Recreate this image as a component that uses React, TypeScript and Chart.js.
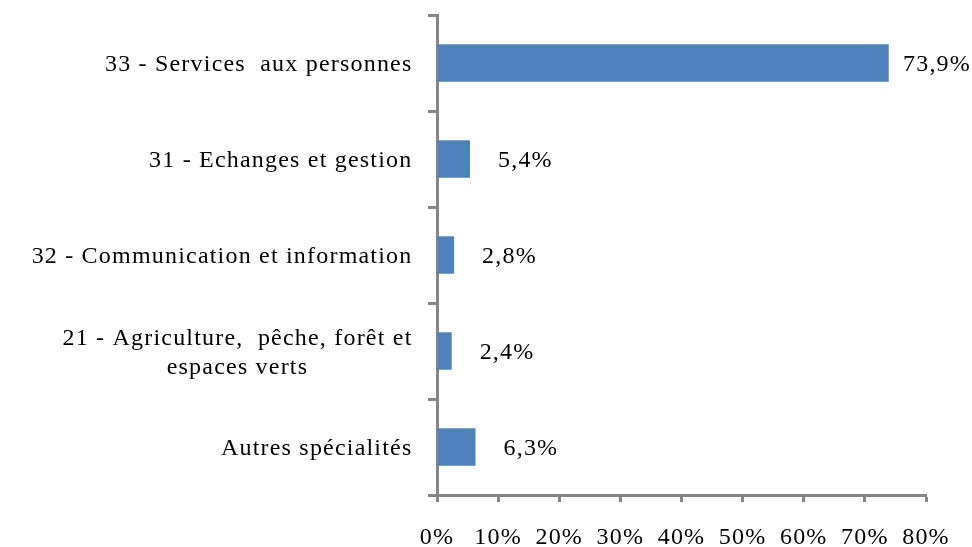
import React, { useEffect, useRef } from "react";
import { Chart, registerables } from "chart.js";

Chart.register(...registerables);

const categories: string[][] = [
  ["33 - Services  aux personnes"],
  ["31 - Echanges et gestion"],
  ["32 - Communication et information"],
  ["21 - Agriculture,  pêche, forêt et", "espaces verts"],
  ["Autres spécialités"],
];
const values: number[] = [73.9, 5.4, 2.8, 2.4, 6.3];
const valueLabels: string[] = ["73,9%", "5,4%", "2,8%", "2,4%", "6,3%"];
const xMin = 0;
const xMax = 80;
const xStep = 10;

const FONT = '"Liberation Serif", "Times New Roman", serif';
const AXIS = "#868686";
const BAR = "#4F81BD";
const SPACING = "1.2px";

const spacingPlugin = {
  id: "spacing",
  beforeDraw(chart: any) {
    (chart.ctx as any).letterSpacing = SPACING;
  },
};

const labelPlugin = {
  id: "customLabels",
  afterDraw(chart: any) {
    const ctx = chart.ctx;
    ctx.save();
    (ctx as any).letterSpacing = SPACING;
    ctx.font = `24px ${FONT}`;
    ctx.fillStyle = "#000";
    ctx.textBaseline = "middle";
    // value labels
    const meta = chart.getDatasetMeta(0);
    meta.data.forEach((bar: any, i: number) => {
      const txt = valueLabels[i];
      const w = ctx.measureText(txt).width;
      const left = Math.min(bar.x + 28, chart.width - w - 1);
      ctx.textAlign = "left";
      ctx.fillText(txt, left, bar.y + 2);
    });
    // category labels
    const yScale = chart.scales.y;
    const rightX = yScale.right - 24.5;
    const lh = 29;
    categories.forEach((lines, i) => {
      const cy = yScale.getPixelForValue(i) + 2;
      if (lines.length === 1) {
        ctx.textAlign = "right";
        ctx.fillText(lines[0], rightX, cy);
      } else {
        const maxW = Math.max(...lines.map((l) => ctx.measureText(l).width));
        const cx = rightX - maxW / 2;
        ctx.textAlign = "center";
        const start = cy - ((lines.length - 1) * lh) / 2;
        lines.forEach((l, j) => ctx.fillText(l, cx, start + j * lh));
      }
    });
    ctx.restore();
  },
};

export default function App() {
  const ref = useRef<HTMLCanvasElement>(null);
  useEffect(() => {
    if (!ref.current) return;
    const chart = new Chart(ref.current, {
      type: "bar",
      data: {
        labels: categories.map((c) => c.join(" ")),
        datasets: [
          {
            data: values,
            backgroundColor: BAR,
            borderWidth: 0,
            barPercentage: 0.39,
            categoryPercentage: 1,
          },
        ],
      },
      options: {
        indexAxis: "y",
        animation: false,
        responsive: true,
        maintainAspectRatio: false,
        layout: { padding: { top: 15, right: 46, bottom: 0, left: 0 } },
        plugins: { legend: { display: false }, tooltip: { enabled: false } },
        scales: {
          y: {
            type: "category",
            afterFit: (s: any) => {
              s.width = 437;
            },
            ticks: { display: false },
            grid: {
              display: true,
              drawOnChartArea: false,
              drawTicks: true,
              tickLength: 9,
              tickColor: AXIS,
              tickWidth: 3,
              offset: true,
            },
            border: { display: true, color: AXIS, width: 3 },
          },
          x: {
            type: "linear",
            min: xMin,
            max: xMax,
            afterFit: (s: any) => {
              s.height = 52;
            },
            ticks: {
              stepSize: xStep,
              callback: (v: any) => `${v}%`,
              font: { family: FONT, size: 24 },
              color: "#000",
              padding: 21,
              maxRotation: 0,
            },
            grid: {
              display: true,
              drawOnChartArea: false,
              drawTicks: true,
              tickLength: 7,
              tickColor: AXIS,
              tickWidth: 3,
            },
            border: { display: true, color: AXIS, width: 3 },
          },
        },
      },
      plugins: [spacingPlugin, labelPlugin],
    } as any);
    return () => chart.destroy();
  }, []);
  return (
    <div style={{ position: "absolute", left: 0, top: 0, width: 972, height: 547, background: "#fff" }}>
      <canvas ref={ref} />
    </div>
  );
}
